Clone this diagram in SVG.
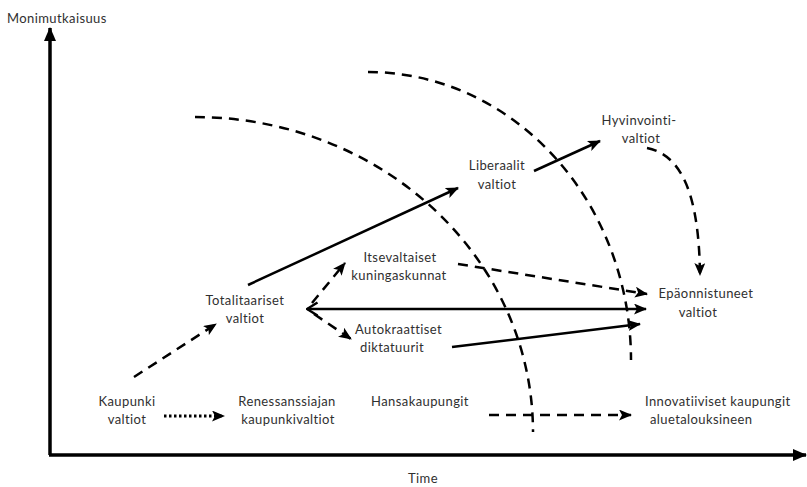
<svg xmlns="http://www.w3.org/2000/svg" width="807" height="487" viewBox="0 0 807 487">
<style>
text{font-family:"Lato","Liberation Sans",sans-serif;font-size:13px;letter-spacing:0.4px;fill:#303030}
.c{text-anchor:middle}
.ln{fill:none;stroke:#000;stroke-width:2.5}
.ds{stroke-dasharray:10,7}
.dt{stroke-dasharray:2.5,2.5;stroke-width:3}
.ax{fill:none;stroke:#000;stroke-width:3.5}
</style>
<defs>
<marker id="ah" markerUnits="userSpaceOnUse" markerWidth="13" markerHeight="11" refX="12" refY="5.5" orient="auto"><path d="M0,0 L13,5.5 L0,11 L3,5.5 Z" fill="#000"/></marker>
<marker id="ax" markerUnits="userSpaceOnUse" markerWidth="14" markerHeight="12" refX="13" refY="6" orient="auto"><path d="M0,0 L14,6 L0,12 Z" fill="#000"/></marker>
<marker id="op" markerUnits="userSpaceOnUse" markerWidth="14" markerHeight="16" refX="1.5" refY="8" orient="auto"><path d="M12,1.5 L1.5,8 L12,14.5" fill="none" stroke="#000" stroke-width="2.5"/></marker>
</defs>
<g id="axes">
<line class="ax" x1="50" y1="455" x2="50" y2="28" marker-end="url(#ax)"/>
<line class="ax" x1="49" y1="455" x2="806" y2="455" marker-end="url(#ax)"/>
<text x="7" y="23">Monimutkaisuus</text>
<text class="c" x="423" y="483">Time</text>
</g>
<g id="arcs">
<path class="ln ds" d="M195,117 A338,315 0 0 1 533,432"/>
<path class="ln ds" d="M368,72 A263,288 0 0 1 631,360"/>
</g>
<g id="connectors">
<line class="ln ds" x1="134" y1="377" x2="216" y2="324" marker-end="url(#ah)"/>
<line class="ln dt" x1="164" y1="416" x2="224" y2="416" marker-end="url(#ah)"/>
<line class="ln" x1="248" y1="285" x2="458" y2="188" marker-end="url(#ah)"/>
<line class="ln" x1="534" y1="171" x2="600" y2="141" marker-end="url(#ah)"/>
<path class="ln ds" d="M647,148 C682,155 699,195 700,275" marker-end="url(#ah)"/>
<line class="ln ds" x1="312" y1="303" x2="345" y2="263" marker-end="url(#ah)"/>
<line class="ln ds" x1="314" y1="314" x2="351" y2="339" marker-end="url(#ah)"/>
<line class="ln" x1="307" y1="309" x2="646" y2="309" marker-start="url(#op)" marker-end="url(#ah)"/>
<line class="ln ds" x1="458" y1="264" x2="647" y2="294" marker-end="url(#ah)"/>
<line class="ln" x1="452" y1="347" x2="640" y2="324" marker-end="url(#ah)"/>
<line class="ln ds" x1="489" y1="415" x2="631" y2="415" marker-end="url(#ah)"/>
</g>
<g id="kaupunki"><text class="c" x="127" y="406">Kaupunki</text><text class="c" x="127" y="424">valtiot</text></g>
<g id="renessanssi"><text class="c" x="287" y="406">Renessanssiajan</text><text class="c" x="288" y="424">kaupunkivaltiot</text></g>
<g id="hansa"><text class="c" x="420" y="406">Hansakaupungit</text></g>
<g id="innovatiiviset"><text x="645" y="406">Innovatiiviset kaupungit</text><text x="650" y="424">aluetalouksineen</text></g>
<g id="totalitaariset"><text class="c" x="245" y="305">Totalitaariset</text><text class="c" x="245" y="323">valtiot</text></g>
<g id="itsevaltaiset"><text class="c" x="400" y="262">Itsevaltaiset</text><text class="c" x="399" y="280">kuningaskunnat</text></g>
<g id="autokraattiset"><text x="355" y="334">Autokraattiset</text><text x="360" y="352">diktatuurit</text></g>
<g id="liberaalit"><text class="c" x="497" y="170">Liberaalit</text><text class="c" x="497" y="189">valtiot</text></g>
<g id="hyvinvointi"><text class="c" x="639" y="125">Hyvinvointi-</text><text class="c" x="641" y="143">valtiot</text></g>
<g id="epaonnistuneet"><text class="c" x="706" y="298">Epäonnistuneet</text><text class="c" x="698" y="317">valtiot</text></g>
</svg>
